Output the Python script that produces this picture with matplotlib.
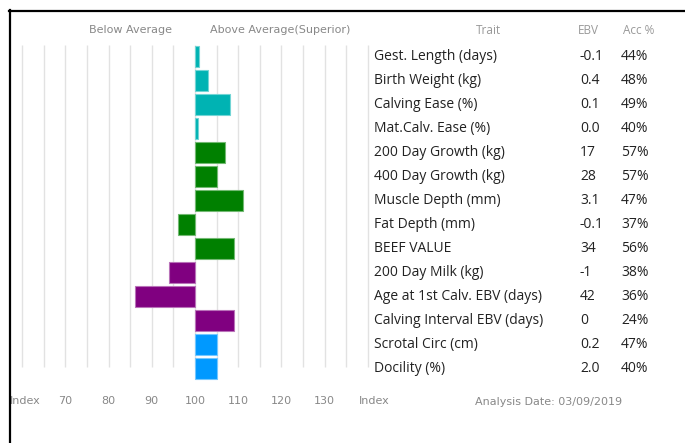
import matplotlib.pyplot as plt
import matplotlib.colors as mcolors
from matplotlib.lines import Line2D
from matplotlib.transforms import blended_transform_factory

# trait table
traits = ["Gest. Length (days)", "Birth Weight (kg)", "Calving Ease (%)",
          "Mat.Calv. Ease (%)", "200 Day Growth (kg)", "400 Day Growth (kg)",
          "Muscle Depth (mm)", "Fat Depth (mm)", "BEEF VALUE",
          "200 Day Milk (kg)", "Age at 1st Calv. EBV (days)",
          "Calving Interval EBV (days)", "Scrotal Circ (cm)", "Docility (%)"]
ebv = ["-0.1", "0.4", "0.1", "0.0", "17", "28", "3.1", "-0.1", "34",
       "-1", "42", "0", "0.2", "2.0"]
acc = ["44%", "48%", "49%", "40%", "57%", "57%", "47%", "37%", "56%",
       "38%", "36%", "24%", "47%", "40%"]
# index values (100 = breed average)
index = [101, 103, 108, 100.6, 107, 105, 111, 96, 109, 94, 86, 109, 105, 105]
groups = ["calving"] * 4 + ["growth"] * 5 + ["fertility"] * 3 + ["other"] * 2

group_colors = {"calving": "#00B3B3", "growth": "#008000",
                "fertility": "#800080", "other": "#0099FF"}

tick_vals = [60.6, 70, 80, 90, 100, 110, 120, 130, 141.4]
tick_labels = ["Index", "70", "80", "90", "100", "110", "120", "130", "Index"]

W, H = 685, 443
fig = plt.figure(figsize=(W / 100, H / 100), dpi=100)

# pixel layout: 100 at x=195px, 4.32px per index unit, rows 24px apart
px_per_unit = 4.32
x0 = 100 - 195 / px_per_unit
x1 = 100 + (375 - 195) / px_per_unit
row0_px, row_px = 56.5, 24.0
ax_top_px, ax_bot_px = 45, 382
y_top = (ax_top_px - row0_px) / row_px
y_bot = (ax_bot_px - row0_px) / row_px

ax = fig.add_axes([0, 1 - ax_bot_px / H, 375 / W, (ax_bot_px - ax_top_px) / H])
ax.set_xlim(x0, x1)
ax.set_ylim(y_bot, y_top)
for s in ax.spines.values():
    s.set_visible(False)
ax.set_yticks([])
ax.set_xticks(tick_vals)
ax.set_xticklabels(tick_labels)
ax.tick_params(axis="x", length=0, pad=10, labelsize=8, labelcolor="#888888")

# gridlines
grid_bottom = (367 - row0_px) / row_px
ax.vlines(range(60, 141, 5), y_top, grid_bottom, color="#e2e2e2", lw=1.0, zorder=0)

rows = list(range(len(traits)))
for i in rows:
    c = group_colors[groups[i]]
    edge = tuple(0.55 * v + 0.45 for v in mcolors.to_rgb(c))
    ax.barh(i, index[i] - 100, left=100, height=0.87, color=c,
            edgecolor=edge, linewidth=0.8, zorder=2)

# headers over the bars
hdr_y = (30 - row0_px) / row_px
ax.text(85, hdr_y, "Below Average", ha="center", va="center",
        fontsize=8, color="#888888", clip_on=False)
ax.text(119.7, hdr_y, "Above Average(Superior)", ha="center", va="center",
        fontsize=8, color="#888888", clip_on=False)

# table on the right
tr = blended_transform_factory(fig.transFigure, ax.transData)
tfont = ["Open Sans", "DejaVu Sans"]
ax.text(488 / W, hdr_y, "Trait", transform=tr, ha="center", va="center",
        fontsize=8.5, color="#999999", family=tfont, clip_on=False)
ax.text(588 / W, hdr_y, "EBV", transform=tr, ha="center", va="center",
        fontsize=8.5, color="#999999", family=tfont, clip_on=False)
ax.text(639 / W, hdr_y, "Acc %", transform=tr, ha="center", va="center",
        fontsize=8.5, color="#999999", family=tfont, clip_on=False)
for i in rows:
    ax.text(374 / W, i, traits[i], transform=tr, ha="left", va="center",
            fontsize=10, color="#222222", family=tfont, clip_on=False)
    ax.text(580 / W, i, ebv[i], transform=tr, ha="left", va="center",
            fontsize=10, color="#222222", family=tfont, clip_on=False)
    ax.text(621 / W, i, acc[i], transform=tr, ha="left", va="center",
            fontsize=10, color="#222222", family=tfont, clip_on=False)

fig.text(475 / W, 1 - 402 / H, "Analysis Date: 03/09/2019", ha="left",
         va="center", fontsize=8, color="#888888")

# frame lines top and left
fig.add_artist(Line2D([9 / W, 1], [1 - 11 / H, 1 - 11 / H], color="black",
                      lw=1.6, transform=fig.transFigure))
fig.add_artist(Line2D([9.5 / W, 9.5 / W], [0, 1 - 10 / H], color="black",
                      lw=1.6, transform=fig.transFigure))

fig.savefig("out.png", dpi=100)
